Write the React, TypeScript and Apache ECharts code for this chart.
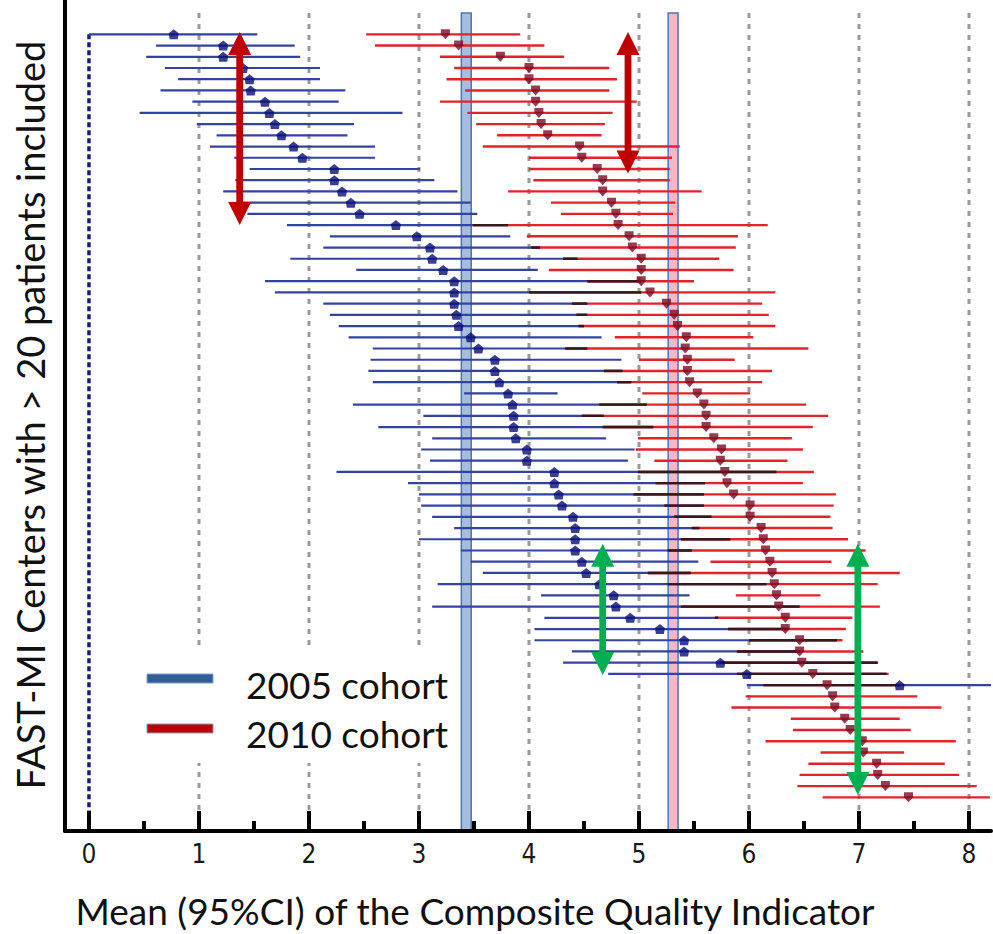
import React, { useEffect, useRef } from "react";
import * as echarts from "echarts";

// 2005 cohort (blue): mean and 95% CI per centre (row index = position in list)
const blueMean = [0.77, 1.22, 1.22, 1.40, 1.46, 1.47, 1.60, 1.64, 1.69, 1.75, 1.86, 1.94, 2.23, 2.23, 2.30, 2.38, 2.46, 2.79, 2.98, 3.10, 3.12, 3.22, 3.32, 3.32, 3.32, 3.34, 3.36, 3.47, 3.54, 3.69, 3.69, 3.73, 3.81, 3.85, 3.86, 3.86, 3.88, 3.98, 3.98, 4.23, 4.23, 4.27, 4.30, 4.40, 4.42, 4.42, 4.42, 4.48, 4.52, 4.64, 4.77, 4.79, 4.92, 5.19, 5.41, 5.41, 5.74, 5.98, 7.37];
const blueLow = [0.00, 0.61, 0.52, 0.69, 0.81, 0.65, 0.94, 0.46, 0.98, 1.16, 1.10, 1.32, 1.46, 1.33, 1.22, 1.38, 1.44, 1.80, 2.19, 2.13, 1.83, 2.43, 1.60, 1.69, 2.13, 2.19, 2.27, 2.36, 2.58, 2.56, 2.54, 2.58, 3.41, 2.40, 3.04, 2.63, 3.12, 3.02, 3.10, 2.25, 2.90, 3.00, 3.02, 3.12, 3.32, 3.00, 3.38, 3.47, 3.58, 3.17, 4.11, 3.12, 4.14, 4.05, 4.05, 4.39, 4.31, 4.72, 5.98];
const blueHigh = [1.53, 1.87, 1.92, 2.10, 2.10, 2.33, 2.27, 2.85, 2.41, 2.35, 2.60, 2.60, 3.01, 3.14, 3.35, 3.47, 3.53, 3.81, 3.83, 4.10, 4.44, 4.08, 5.02, 5.02, 4.53, 4.53, 4.50, 4.66, 4.53, 4.84, 4.85, 4.93, 4.26, 5.07, 4.68, 5.13, 4.70, 4.96, 4.90, 6.25, 5.60, 5.59, 5.59, 5.66, 5.55, 5.83, 5.48, 5.54, 5.47, 6.16, 5.46, 6.46, 5.72, 6.35, 6.80, 6.46, 7.17, 7.25, 8.30];

// 2010 cohort (red)
const redMean = [3.24, 3.36, 3.74, 4.00, 4.00, 4.06, 4.06, 4.09, 4.11, 4.17, 4.46, 4.48, 4.62, 4.67, 4.67, 4.75, 4.79, 4.81, 4.91, 4.94, 5.02, 5.02, 5.02, 5.10, 5.25, 5.32, 5.35, 5.43, 5.42, 5.44, 5.44, 5.46, 5.53, 5.59, 5.61, 5.61, 5.68, 5.75, 5.74, 5.78, 5.80, 5.86, 6.01, 6.01, 6.11, 6.13, 6.15, 6.19, 6.21, 6.23, 6.25, 6.27, 6.33, 6.33, 6.46, 6.46, 6.48, 6.58, 6.71, 6.76, 6.78, 6.87, 6.92, 7.03, 7.04, 7.16, 7.17, 7.24, 7.45];
const redLow = [2.52, 2.60, 3.19, 3.32, 3.25, 3.42, 3.19, 3.44, 3.52, 3.71, 3.58, 4.00, 4.00, 4.04, 3.81, 4.20, 4.29, 3.49, 3.98, 4.02, 4.31, 4.18, 4.53, 4.00, 4.39, 4.43, 4.45, 4.78, 4.33, 5.00, 4.68, 4.80, 5.03, 4.64, 4.48, 4.67, 4.99, 4.97, 5.14, 4.99, 5.15, 4.95, 5.23, 5.32, 5.48, 5.38, 5.26, 5.65, 5.08, 5.26, 5.88, 5.38, 5.69, 5.81, 6.00, 5.89, 5.74, 5.89, 6.13, 5.97, 5.84, 6.38, 6.40, 6.15, 6.65, 6.54, 6.46, 6.44, 6.67];
const redHigh = [3.92, 4.14, 4.32, 4.73, 4.80, 4.73, 4.98, 4.76, 4.69, 4.66, 5.37, 5.30, 5.28, 5.28, 5.57, 5.33, 5.31, 6.17, 5.90, 5.88, 5.73, 5.86, 5.50, 6.24, 6.12, 6.18, 6.24, 6.04, 6.54, 5.87, 6.21, 6.12, 6.01, 6.52, 6.72, 6.58, 6.39, 6.49, 6.35, 6.59, 6.49, 6.79, 6.77, 6.74, 6.76, 6.90, 7.06, 6.75, 7.37, 7.17, 6.65, 7.19, 6.94, 6.88, 6.85, 7.04, 7.17, 7.27, 7.37, 7.53, 7.75, 7.37, 7.47, 7.88, 7.41, 7.78, 7.91, 8.07, 8.19];

// cohort overall means (vertical bands)
const cohortMeans = [3.43, 5.31];

// axis ticks
const xTickValues = [0, 1, 2, 3, 4, 5, 6, 7, 8];
const xMinorTicks = [0.5, 1.5, 2.5, 3.5, 4.5, 5.5, 6.5, 7.5];
const gridLineValues = [1, 2, 3, 4, 5, 6, 7, 8];

// annotation arrows: x position, top row, bottom row
const arrowX = [1.37, 4.9, 4.67, 6.99];
const arrowTop = [-0.2, -0.2, 45.4, 45.4];
const arrowBottom = [17.0, 12.4, 57.1, 67.8];

const legendLabels = ["2005 cohort", "2010 cohort"];
const xTitle = "Mean (95%CI) of the Composite Quality Indicator";
const yTitle = "FAST-MI Centers with > 20 patients included";

const X_MIN = -0.218;
const X_MAX = 8.2;
const Y_MIN = -3.06;
const Y_MAX = 71.0;
const LINE_TOP = -1.9;
const LINE_BOTTOM = 69.2;

const FONT = "Lato, 'Open Sans', sans-serif";

export default function App() {
  const ref = useRef<HTMLDivElement>(null);

  useEffect(() => {
    if (!ref.current) return;
    const chart = echarts.init(ref.current, null, { renderer: "svg" });

    const blueCI = blueLow.map((l, i) => [l, blueHigh[i], i]);
    const redCI = redLow.map((l, i) => [l, redHigh[i], i]);
    const overlap: number[][] = [];
    blueLow.forEach((bl, i) => {
      const lo = Math.max(bl, redLow[i]);
      const hi = Math.min(blueHigh[i], redHigh[i]);
      if (hi > lo) overlap.push([lo, hi, i]);
    });

    const hLine = (color: string, width: number) => (params: any, api: any) => {
      const p1 = api.coord([api.value(0), api.value(2)]);
      const p2 = api.coord([api.value(1), api.value(2)]);
      return {
        type: "line",
        shape: { x1: p1[0], y1: p1[1], x2: p2[0], y2: p2[1] },
        style: { stroke: color, lineWidth: width },
      };
    };

    const vLine = (color: string, width: number, dash: number[]) => (params: any, api: any) => {
      const p1 = api.coord([api.value(0), api.value(1)]);
      const p2 = api.coord([api.value(0), api.value(2)]);
      return {
        type: "line",
        shape: { x1: p1[0], y1: p1[1], x2: p2[0], y2: p2[1] },
        style: { stroke: color, lineWidth: width, lineDash: dash },
      };
    };

    const arrowColors = ["#c00000", "#c00000", "#00b050", "#00b050"];

    const option: any = {
      animation: false,
      backgroundColor: "#ffffff",
      grid: { left: 65, top: 0, width: 926, height: 831, containLabel: false },
      xAxis: [
        {
          type: "value",
          min: X_MIN,
          max: X_MAX,
          position: "bottom",
          z: 25,
          axisLine: { show: true, onZero: false, lineStyle: { color: "#000", width: 4 } },
          axisTick: { show: false },
          axisLabel: {
            show: true,
            customValues: xTickValues,
            fontSize: 26,
            fontFamily: "'Liberation Sans Narrow', 'DejaVu Sans Condensed', sans-serif",
            color: "#1a1a1a",
            margin: 10,
          },
          splitLine: { show: false },
        },
      ],
      yAxis: {
        type: "value",
        inverse: true,
        min: Y_MIN,
        max: Y_MAX,
        position: "left",
        z: 25,
        axisLine: { show: true, onZero: false, lineStyle: { color: "#000", width: 4 } },
        axisTick: { show: false },
        axisLabel: { show: false },
        splitLine: { show: false },
      },
      series: [
        // grey dotted grid lines
        {
          type: "custom",
          z: 1,
          silent: true,
          data: gridLineValues.map((v) => [v, LINE_TOP, LINE_BOTTOM]),
          encode: { x: 0, y: [1, 2] },
          renderItem: vLine("#9a9a9a", 3, [5, 6]),
        },
        // navy dotted zero line
        {
          type: "custom",
          z: 2,
          silent: true,
          data: [[0, 0, LINE_BOTTOM]],
          encode: { x: 0, y: [1, 2] },
          renderItem: vLine("#1c1c86", 3.5, [5, 3]),
        },
        // axis ticks (major and minor, pointing inward)
        {
          type: "custom",
          z: 24,
          silent: true,
          clip: false,
          data: [
            ...xTickValues.map((v) => [v, 20]),
            ...xMinorTicks.map((v) => [v, 10]),
          ],
          encode: { x: 0 },
          renderItem: (params: any, api: any) => {
            const p = api.coord([api.value(0), Y_MAX]);
            const len = api.value(1);
            return {
              type: "rect",
              shape: { x: p[0] - 2, y: p[1] - len, width: 4, height: len },
              style: { fill: "#000" },
            };
          },
        },
        // cohort mean bands
        {
          type: "custom",
          z: 8,
          silent: true,
          data: cohortMeans.map((m, i) => [m, i]),
          encode: { x: 0 },
          renderItem: (params: any, api: any) => {
            const m = api.value(0);
            const i = api.value(1);
            const p1 = api.coord([m - 0.045, LINE_TOP]);
            const p2 = api.coord([m + 0.045, Y_MAX]);
            return {
              type: "rect",
              shape: { x: p1[0], y: p1[1], width: p2[0] - p1[0], height: p2[1] - p1[1] },
              style: {
                fill: i === 0 ? "rgba(150,178,216,0.85)" : "rgba(242,176,188,0.9)",
                stroke: "#4f74b4",
                lineWidth: 1.5,
              },
            };
          },
        },
        {
          name: "2010 cohort CI",
          type: "custom",
          z: 10,
          clip: true,
          data: redCI,
          encode: { x: [0, 1], y: 2 },
          renderItem: hLine("#e3222a", 2.4),
        },
        {
          name: "2005 cohort CI",
          type: "custom",
          z: 11,
          clip: true,
          data: blueCI,
          encode: { x: [0, 1], y: 2 },
          renderItem: hLine("#3442a4", 2.2),
        },
        {
          name: "overlap",
          type: "custom",
          z: 12,
          clip: true,
          data: overlap,
          encode: { x: [0, 1], y: 2 },
          renderItem: hLine("#3a1616", 2.4),
        },
        {
          name: "2005 cohort",
          type: "scatter",
          z: 15,
          data: blueMean.map((m, i) => [m, i]),
          symbol: "path://M5,0 L10,4 L9,10 L1,10 L0,4 Z",
          symbolSize: [10, 10],
          itemStyle: { color: "#0a0f78" },
        },
        {
          name: "2010 cohort",
          type: "scatter",
          z: 15,
          data: redMean.map((m, i) => [m, i]),
          symbol: "path://M0,0 L10,0 L10,5 L5,10 L0,5 Z",
          symbolSize: [9, 10],
          itemStyle: { color: "#7d0b24" },
        },
        // annotation arrows
        {
          type: "custom",
          z: 20,
          silent: true,
          data: arrowX.map((x, i) => [x, arrowTop[i], arrowBottom[i], i]),
          encode: { x: 0, y: [1, 2] },
          renderItem: (params: any, api: any) => {
            const x = api.value(0);
            const t = api.coord([x, api.value(1)]);
            const b = api.coord([x, api.value(2)]);
            const color = arrowColors[api.value(3)];
            const cx = t[0];
            const hw = 11.5;
            const hh = 23;
            const sw = 3.4;
            return {
              type: "group",
              children: [
                {
                  type: "rect",
                  shape: { x: cx - sw, y: t[1] + hh - 1, width: sw * 2, height: b[1] - t[1] - 2 * hh + 2 },
                  style: { fill: color },
                },
                {
                  type: "polygon",
                  shape: { points: [[cx, t[1]], [cx - hw, t[1] + hh], [cx + hw, t[1] + hh]] },
                  style: { fill: color },
                },
                {
                  type: "polygon",
                  shape: { points: [[cx, b[1]], [cx - hw, b[1] - hh], [cx + hw, b[1] - hh]] },
                  style: { fill: color },
                },
              ],
            };
          },
        },
      ],
      graphic: [
        {
          type: "rect",
          z: 5,
          silent: true,
          shape: { x: 100, y: 650, width: 350, height: 113 },
          style: { fill: "#ffffff" },
        },
        {
          type: "rect",
          z: 6,
          shape: { x: 147, y: 674, width: 66, height: 9 },
          style: { fill: "#2f5e98", stroke: "#7e9dc8", lineWidth: 1 },
        },
        {
          type: "rect",
          z: 6,
          shape: { x: 147, y: 724, width: 66, height: 9 },
          style: { fill: "#c00000", stroke: "#7e9dc8", lineWidth: 1 },
        },
        {
          type: "text",
          z: 6,
          x: 246,
          y: 684,
          style: {
            text: legendLabels[0],
            fontSize: 37,
            fontFamily: FONT,
            fill: "#111",
            textAlign: "left",
            textVerticalAlign: "middle",
          },
        },
        {
          type: "text",
          z: 6,
          x: 246,
          y: 733,
          style: {
            text: legendLabels[1],
            fontSize: 37,
            fontFamily: FONT,
            fill: "#111",
            textAlign: "left",
            textVerticalAlign: "middle",
          },
        },
        {
          type: "text",
          z: 6,
          x: 475,
          y: 910,
          style: {
            text: xTitle,
            fontSize: 37,
            fontFamily: FONT,
            fill: "#111",
            textAlign: "center",
            textVerticalAlign: "middle",
          },
        },
        {
          type: "text",
          z: 6,
          x: 30,
          y: 415,
          rotation: Math.PI / 2,
          style: {
            text: yTitle,
            fontSize: 38,
            fontFamily: FONT,
            fill: "#111",
            textAlign: "center",
            textVerticalAlign: "middle",
          },
        },
      ],
    };

    chart.setOption(option);
    return () => chart.dispose();
  }, []);

  return (
    <div
      ref={ref}
      style={{ position: "fixed", left: 0, top: 0, width: 993, height: 934, background: "#fff" }}
    />
  );
}
